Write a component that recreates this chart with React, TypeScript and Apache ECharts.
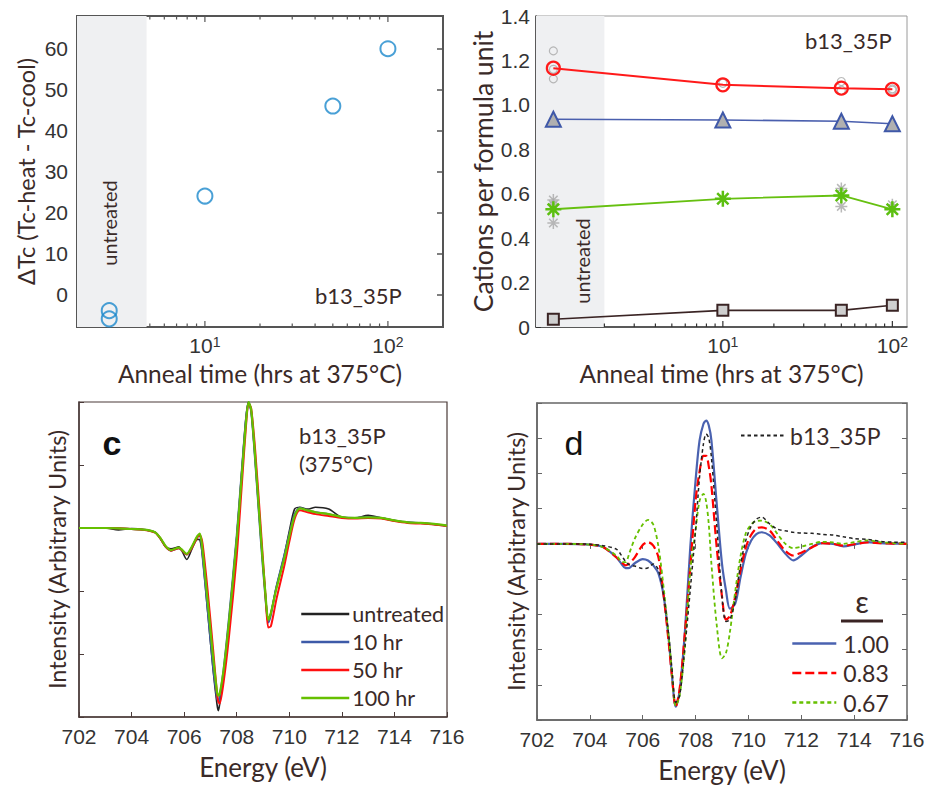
import React, { useEffect, useRef } from 'react';
import * as echarts from 'echarts';

// ---------- Panel a ----------
const aAnnealHours = [3, 3, 10, 50, 100];
const aDeltaTc = [-4, -6, 24, 46, 60];
const aYTicks = [0, 10, 20, 30, 40, 50, 60];
const aLogTicks = [5, 6, 7, 8, 9, 10, 20, 30, 40, 50, 60, 70, 80, 90, 100];
const aMajorTicks = [10, 100];

// ---------- Panel b ----------
const bAnnealHours = [1, 10, 50, 100];
const bCirclesMean = [1.165, 1.09, 1.075, 1.07];
const bTrianglesMean = [0.935, 0.932, 0.926, 0.915];
const bStarsMean = [0.53, 0.577, 0.592, 0.53];
const bSquaresMean = [0.035, 0.075, 0.075, 0.098];
const bCirclesRawHours = [1, 1, 1, 10, 50, 50, 100, 100];
const bCirclesRaw = [1.243, 1.16, 1.117, 1.097, 1.105, 1.066, 1.072, 1.066];
const bStarsRawHours = [1, 1, 1, 50, 50, 100];
const bStarsRaw = [0.572, 0.55, 0.468, 0.624, 0.543, 0.55];
const bLogTicks = [2, 3, 4, 5, 6, 7, 8, 9, 10, 20, 30, 40, 50, 60, 70, 80, 90, 100];
const bMajorTicks = [10, 100];
const decadeLabels = [10, 100];

// ---------- Panel c ----------
const cEnergy = [702, 703, 703.5, 704, 704.5, 704.9, 705.1, 705.3, 705.5, 705.8, 706.1, 706.3, 706.5, 706.6, 706.7, 706.9, 707.1, 707.25, 707.3, 707.35, 707.5, 707.7, 708.0, 708.2, 708.35, 708.45, 708.55, 708.7, 708.9, 709.1, 709.2, 709.3, 709.5, 709.8, 710.0, 710.2, 710.4, 710.7, 711.0, 711.5, 712.0, 712.5, 713.0, 713.5, 714.0, 714.5, 715.0, 715.5, 716.0];
const cUntreated = [0, 0, -0.03, -0.01, -0.027, -0.07, -0.17, -0.3, -0.33, -0.3, -0.5, -0.33, -0.18, -0.19, -0.45, -1.35, -2.25, -2.8, -2.9, -2.8, -2.3, -1.5, -0.15, 0.95, 1.75, 2.0, 1.85, 1.1, -0.05, -1.1, -1.45, -1.35, -0.95, -0.45, -0.05, 0.3, 0.33, 0.3, 0.33, 0.3, 0.17, 0.16, 0.2, 0.16, 0.12, 0.09, 0.08, 0.06, 0.035];
const c10hr = [0, 0, -0.005, -0.016, -0.027, -0.07, -0.17, -0.3, -0.36, -0.32, -0.42, -0.3, -0.14, -0.12, -0.45, -1.32, -2.2, -2.7, -2.75, -2.68, -2.25, -1.45, -0.12, 0.95, 1.72, 2.0, 1.85, 1.08, -0.1, -1.15, -1.5, -1.38, -0.95, -0.45, -0.1, 0.22, 0.32, 0.28, 0.25, 0.22, 0.17, 0.16, 0.17, 0.16, 0.12, 0.09, 0.08, 0.06, 0.035];
const c50hr = [0, 0, -0.005, -0.016, -0.03, -0.075, -0.17, -0.3, -0.36, -0.32, -0.42, -0.31, -0.15, -0.12, -0.25, -1.02, -1.92, -2.62, -2.76, -2.79, -2.45, -1.75, -0.45, 0.72, 1.6, 1.98, 1.9, 1.25, 0.1, -1.1, -1.58, -1.56, -1.15, -0.62, -0.22, 0.14, 0.28, 0.25, 0.22, 0.19, 0.16, 0.15, 0.16, 0.15, 0.11, 0.08, 0.07, 0.055, 0.03];
const c100hr = [0, 0, -0.005, -0.016, -0.027, -0.07, -0.16, -0.29, -0.35, -0.31, -0.41, -0.29, -0.13, -0.09, -0.35, -1.19, -2.04, -2.6, -2.66, -2.64, -2.26, -1.51, -0.19, 0.88, 1.67, 2.0, 1.88, 1.14, -0.03, -1.09, -1.46, -1.35, -0.98, -0.5, -0.13, 0.19, 0.31, 0.28, 0.25, 0.22, 0.175, 0.16, 0.17, 0.16, 0.12, 0.09, 0.08, 0.064, 0.037];

// ---------- Panel d ----------
const dEnergy = [702, 703, 704, 704.5, 705.0, 705.2, 705.35, 705.5, 705.7, 706.0, 706.2, 706.4, 706.6, 706.8, 707.0, 707.1, 707.25, 707.4, 707.6, 707.8, 708.0, 708.15, 708.3, 708.4, 708.5, 708.6, 708.8, 709.0, 709.15, 709.3, 709.5, 709.7, 709.9, 710.1, 710.3, 710.5, 710.8, 711.1, 711.4, 711.7, 712.0, 712.4, 712.8, 713.2, 713.6, 714.0, 714.5, 715.0, 715.5, 716.0];
const dEps100 = [0, 0, -0.02, -0.09, -0.38, -0.57, -0.69, -0.68, -0.55, -0.43, -0.47, -0.61, -0.85, -1.51, -2.84, -3.69, -4.62, -4.16, -2.46, -0.09, 1.8, 2.93, 3.41, 3.5, 3.36, 2.93, 1.14, -0.57, -1.32, -1.84, -1.7, -0.95, -0.28, 0.09, 0.28, 0.33, 0.24, 0, -0.28, -0.47, -0.33, -0.09, 0.02, 0, -0.07, -0.02, 0.05, 0.02, 0.01, 0];
const dEps083 = [0, 0, -0.02, -0.09, -0.38, -0.52, -0.61, -0.55, -0.38, -0.03, 0.05, -0.05, -0.4, -1.51, -2.93, -3.7, -4.62, -4.1, -2.5, -0.66, 1.23, 2.05, 2.5, 2.5, 2.2, 1.65, -0.1, -1.5, -2.15, -2.05, -1.5, -0.75, -0.1, 0.25, 0.44, 0.47, 0.38, 0.08, -0.2, -0.33, -0.25, -0.1, 0.02, 0, -0.05, -0.01, 0.04, 0.02, 0.01, 0];
const dEps067 = [0, 0, -0.02, -0.09, -0.33, -0.5, -0.52, -0.25, 0.15, 0.55, 0.68, 0.55, -0.1, -1.3, -2.75, -3.6, -4.6, -4.3, -2.9, -0.75, 0.38, 1.22, 1.42, 1.2, 0.55, -0.57, -2.3, -3.25, -3.1, -2.5, -1.35, -0.35, 0.3, 0.55, 0.65, 0.66, 0.56, 0.28, 0, -0.12, -0.08, 0, 0.06, 0.04, 0, 0.05, 0.1, 0.05, 0.02, 0];
const dMeasured = [0, 0, -0.01, -0.05, -0.15, -0.33, -0.5, -0.6, -0.63, -0.7, -0.68, -0.57, -0.75, -1.5, -2.7, -3.5, -4.5, -4.3, -2.9, -1.3, 0.4, 1.9, 2.85, 3.12, 3.0, 2.45, 0.55, -1.5, -2.2, -2.15, -1.6, -0.6, 0.1, 0.5, 0.7, 0.76, 0.57, 0.42, 0.37, 0.33, 0.31, 0.3, 0.27, 0.25, 0.2, 0.15, 0.13, 0.07, 0.05, 0.05];

const TICK_FONT = 'Liberation Sans, Arial, sans-serif';
const TITLE_FONT = 'Lato, "Open Sans", sans-serif';
const TEXT_BROWN = '#3a2a28';
const ASTERISK = 'path://M10,0L10,20M0,10L20,10M2.93,2.93L17.07,17.07M2.93,17.07L17.07,2.93';

const pairs = (xs: number[], ys: number[]) => xs.map((x, i) => [x, ys[i]]);

const decadeFormatter = (v: number) => '10{s|' + Math.round(Math.log10(v)) + '}';

const supRich = {
  s: { fontSize: 14, fontFamily: TICK_FONT, color: '#333', verticalAlign: 'top', lineHeight: 14 },
};

function logTickSeries(xi: number, yi: number, ticks: number[], majors: number[], yVal: number, top: boolean, color: string) {
  return {
    type: 'custom',
    xAxisIndex: xi,
    yAxisIndex: yi,
    silent: true,
    z: 6,
    clip: false,
    data: ticks.map((t) => [t, yVal]),
    encode: { x: 0, y: 1 },
    renderItem: (params: any, api: any) => {
      const v = api.value(0);
      const p = api.coord([v, yVal]);
      const cs = params.coordSys;
      const len = majors.some((m) => Math.abs(m - v) < 1e-9) ? 6 : 3.5;
      const bottom = cs.y + cs.height;
      const children: any[] = [
        { type: 'line', shape: { x1: p[0], y1: bottom, x2: p[0], y2: bottom - len }, style: { stroke: color, lineWidth: 1.2 } },
      ];
      if (top) {
        children.push({ type: 'line', shape: { x1: p[0], y1: cs.y, x2: p[0], y2: cs.y + len }, style: { stroke: color, lineWidth: 1.2 } });
      }
      return { type: 'group', children };
    },
  };
}

function buildOption(): any {
  const nameStyle = (size: number) => ({ fontFamily: TITLE_FONT, fontSize: size, color: TEXT_BROWN });
  const labelStyle = { fontFamily: TICK_FONT, fontSize: 21, color: '#333' };
  const legendItem = { color: 'transparent', borderColor: 'transparent', borderWidth: 0 };

  return {
    animation: false,
    backgroundColor: '#ffffff',
    grid: [
      { left: 77, top: 16, width: 366, height: 311, show: true, borderColor: '#555', borderWidth: 2, backgroundColor: 'transparent' },
      { left: 536, top: 16, width: 371, height: 311, show: true, borderColor: '#9a9a9a', borderWidth: 1, backgroundColor: 'transparent' },
      { left: 79, top: 402, width: 368, height: 315, show: true, borderColor: '#4a3a38', borderWidth: 1.2, backgroundColor: 'transparent' },
      { left: 537, top: 403, width: 370, height: 317, show: true, borderColor: '#666', borderWidth: 1.5, backgroundColor: 'transparent' },
    ],
    xAxis: [
      {
        type: 'log', gridIndex: 0, min: 2, max: 200,
        axisLine: { show: false }, axisTick: { show: false }, splitLine: { show: false },
        axisLabel: { ...labelStyle, margin: 8, customValues: decadeLabels, formatter: decadeFormatter, rich: supRich },
        name: 'Anneal time (hrs at 375°C)', nameLocation: 'middle', nameGap: 34, nameTextStyle: nameStyle(24.5),
      },
      {
        type: 'log', gridIndex: 1, min: 0.79, max: 122,
        axisLine: { show: true, onZero: false, lineStyle: { color: '#333', width: 1.5 } }, axisTick: { show: false }, splitLine: { show: false },
        axisLabel: { ...labelStyle, margin: 8, customValues: decadeLabels, formatter: decadeFormatter, rich: supRich },
        name: 'Anneal time (hrs at 375°C)', nameLocation: 'middle', nameGap: 34, nameTextStyle: nameStyle(24.5),
      },
      {
        type: 'value', gridIndex: 2, min: 702, max: 716, interval: 2,
        axisLine: { show: true, onZero: false, lineStyle: { color: '#4a3a38', width: 1.5 } },
        axisTick: { show: true, inside: true, length: 5, lineStyle: { color: '#4a3a38' } }, splitLine: { show: false },
        axisLabel: { ...labelStyle, margin: 9 },
        name: 'Energy (eV)', nameLocation: 'middle', nameGap: 37, nameTextStyle: nameStyle(26),
      },
      {
        type: 'value', gridIndex: 3, min: 702, max: 716, interval: 2,
        axisLine: { show: true, onZero: false, lineStyle: { color: '#666', width: 1.5 } },
        axisTick: { show: true, inside: true, length: 5, lineStyle: { color: '#666' } }, splitLine: { show: false },
        axisLabel: { ...labelStyle, margin: 9 },
        name: 'Energy (eV)', nameLocation: 'middle', nameGap: 37, nameTextStyle: nameStyle(26),
      },
      {
        type: 'value', gridIndex: 3, position: 'top', min: 702, max: 716, interval: 2,
        axisLine: { show: false }, axisTick: { show: true, inside: true, length: 5, lineStyle: { color: '#666' } },
        splitLine: { show: false }, axisLabel: { show: false },
      },
    ],
    yAxis: [
      {
        type: 'value', gridIndex: 0, min: -8, max: 68,
        axisLine: { show: false },
        axisTick: { show: true, inside: true, length: 6, customValues: aYTicks, lineStyle: { color: '#555', width: 1.5 } },
        splitLine: { show: false },
        axisLabel: { ...labelStyle, margin: 9, customValues: aYTicks },
        name: 'ΔTc (Tc-heat - Tc-cool)', nameLocation: 'middle', nameGap: 39, nameTextStyle: nameStyle(23.5),
      },
      {
        type: 'value', gridIndex: 0, position: 'right', min: -8, max: 68,
        axisLine: { show: false },
        axisTick: { show: true, inside: true, length: 6, customValues: aYTicks, lineStyle: { color: '#555', width: 1.5 } },
        splitLine: { show: false }, axisLabel: { show: false },
      },
      {
        type: 'value', gridIndex: 1, min: 0, max: 1.4, interval: 0.2,
        axisLine: { show: true, onZero: false, lineStyle: { color: '#333', width: 1.5 } },
        axisTick: { show: true, inside: true, length: 5, lineStyle: { color: '#333' } }, splitLine: { show: false },
        axisLabel: { ...labelStyle, margin: 6, formatter: (v: number) => (v === 0 ? '0' : v.toFixed(1)) },
        name: 'Cations per formula unit', nameLocation: 'middle', nameGap: 40, nameTextStyle: nameStyle(26.5),
      },
      {
        type: 'value', gridIndex: 2, min: -3, max: 2, interval: 1,
        axisLine: { show: true, onZero: false, lineStyle: { color: '#4a3a38', width: 1.5 } },
        axisTick: { show: true, inside: true, length: 5, lineStyle: { color: '#4a3a38' } }, splitLine: { show: false },
        axisLabel: { show: false },
        name: 'Intensity (Arbitrary Units)', nameLocation: 'middle', nameGap: 10, nameTextStyle: nameStyle(23.5),
      },
      {
        type: 'value', gridIndex: 3, min: -5, max: 4, interval: 1,
        axisLine: { show: true, onZero: false, lineStyle: { color: '#666', width: 1.5 } },
        axisTick: { show: true, inside: true, length: 5, lineStyle: { color: '#666' } }, splitLine: { show: false },
        axisLabel: { show: false },
        name: 'Intensity (Arbitrary Units)', nameLocation: 'middle', nameGap: 9, nameTextStyle: nameStyle(23.5),
      },
      {
        type: 'value', gridIndex: 3, position: 'right', min: -5, max: 4, interval: 1,
        axisLine: { show: false }, axisTick: { show: true, inside: true, length: 5, lineStyle: { color: '#666' } },
        splitLine: { show: false }, axisLabel: { show: false },
      },
    ],
    legend: [
      {
        data: ['untreated', '10 hr', '50 hr', '100 hr'], orient: 'vertical', left: 300, top: 603, padding: 0,
        itemWidth: 48, itemHeight: 14, itemGap: 6, selectedMode: false, itemStyle: legendItem,
        lineStyle: { width: 2.5 },
        textStyle: { fontFamily: TITLE_FONT, fontSize: 21.5, lineHeight: 20, color: TEXT_BROWN, padding: [0, 0, 0, -2] },
      },
      {
        data: ['b13_35P'], orient: 'vertical', left: 740, top: 424, padding: 0,
        itemWidth: 44, itemHeight: 14, selectedMode: false, itemStyle: legendItem,
        textStyle: { fontFamily: TITLE_FONT, fontSize: 23, lineHeight: 20, color: TEXT_BROWN },
      },
      {
        data: ['1.00', '0.83', '0.67'], orient: 'vertical', left: 791, top: 632, padding: 0,
        itemWidth: 44, itemHeight: 14, itemGap: 6.5, selectedMode: false, itemStyle: legendItem,
        lineStyle: { width: 2.6 },
        textStyle: { fontFamily: TITLE_FONT, fontSize: 23, lineHeight: 20, color: TEXT_BROWN, padding: [0, 0, 0, 2] },
      },
    ],
    series: [
      // ---- panel a ----
      {
        name: 'ΔTc', type: 'scatter', xAxisIndex: 0, yAxisIndex: 0, z: 3,
        data: pairs(aAnnealHours, aDeltaTc), symbol: 'circle', symbolSize: 15,
        itemStyle: { color: 'transparent', borderColor: '#1b88cc', borderWidth: 2 },
        markArea: { silent: true, itemStyle: { color: '#eff0f2' }, data: [[{ xAxis: 2 }, { xAxis: 4.8 }]] },
      },
      logTickSeries(0, 0, aLogTicks, aMajorTicks, 0, true, '#555'),
      // ---- panel b ----
      {
        name: 'raw circles', type: 'scatter', xAxisIndex: 1, yAxisIndex: 2, z: 2,
        data: pairs(bCirclesRawHours, bCirclesRaw), symbol: 'circle', symbolSize: 8,
        itemStyle: { color: 'transparent', borderColor: '#a8a8a8', borderWidth: 1.2 },
        markArea: { silent: true, itemStyle: { color: '#eff0f2' }, data: [[{ xAxis: 0.79 }, { xAxis: 2 }]] },
      },
      {
        name: 'raw stars', type: 'scatter', xAxisIndex: 1, yAxisIndex: 2, z: 2,
        data: pairs(bStarsRawHours, bStarsRaw), symbol: ASTERISK, symbolSize: 12,
        itemStyle: { color: 'transparent', borderColor: '#a8a8a8', borderWidth: 1.5 },
      },
      {
        name: 'circles', type: 'line', xAxisIndex: 1, yAxisIndex: 2, z: 3,
        data: pairs(bAnnealHours, bCirclesMean), symbol: 'circle', symbolSize: 13, showSymbol: true,
        lineStyle: { color: '#ff1a1a', width: 2 },
        itemStyle: { color: 'transparent', borderColor: '#ff1a1a', borderWidth: 2.2 },
      },
      {
        name: 'triangles', type: 'line', xAxisIndex: 1, yAxisIndex: 2, z: 3,
        data: pairs(bAnnealHours, bTrianglesMean), symbol: 'triangle', symbolSize: 15, showSymbol: true,
        lineStyle: { color: '#4a5fae', width: 1.6 },
        itemStyle: { color: '#b0b0b0', borderColor: '#3f58a8', borderWidth: 2 },
      },
      {
        name: 'stars', type: 'line', xAxisIndex: 1, yAxisIndex: 2, z: 3,
        data: pairs(bAnnealHours, bStarsMean), symbol: ASTERISK, symbolSize: 16, showSymbol: true,
        lineStyle: { color: '#66c010', width: 1.8 },
        itemStyle: { color: 'transparent', borderColor: '#5cbf10', borderWidth: 2.5 },
      },
      {
        name: 'squares', type: 'line', xAxisIndex: 1, yAxisIndex: 2, z: 3,
        data: pairs(bAnnealHours, bSquaresMean), symbol: 'rect', symbolSize: 11, showSymbol: true,
        lineStyle: { color: '#3a2424', width: 1.6 },
        itemStyle: { color: '#cfcfcf', borderColor: '#3a2424', borderWidth: 2 },
      },
      logTickSeries(1, 2, bLogTicks, bMajorTicks, 0, false, '#333'),
      // ---- panel c ----
      {
        name: 'untreated', type: 'line', xAxisIndex: 2, yAxisIndex: 3, showSymbol: false, symbol: 'none', smooth: 0.25,
        data: pairs(cEnergy, cUntreated), lineStyle: { color: '#222222', width: 1.6 }, itemStyle: { color: '#222222' },
      },
      {
        name: '10 hr', type: 'line', xAxisIndex: 2, yAxisIndex: 3, showSymbol: false, symbol: 'none', smooth: 0.25,
        data: pairs(cEnergy, c10hr), lineStyle: { color: '#3d5aa8', width: 2 }, itemStyle: { color: '#3d5aa8' },
      },
      {
        name: '50 hr', type: 'line', xAxisIndex: 2, yAxisIndex: 3, showSymbol: false, symbol: 'none', smooth: 0.25,
        data: pairs(cEnergy, c50hr), lineStyle: { color: '#ff1010', width: 2 }, itemStyle: { color: '#ff1010' },
      },
      {
        name: '100 hr', type: 'line', xAxisIndex: 2, yAxisIndex: 3, showSymbol: false, symbol: 'none', smooth: 0.25,
        data: pairs(cEnergy, c100hr), lineStyle: { color: '#66c000', width: 2.2 }, itemStyle: { color: '#66c000' },
      },
      // ---- panel d ----
      {
        name: '1.00', type: 'line', xAxisIndex: 3, yAxisIndex: 4, showSymbol: false, symbol: 'none', smooth: 0.3,
        data: pairs(dEnergy, dEps100), lineStyle: { color: '#4a62b0', width: 2.2 }, itemStyle: { color: '#4a62b0' },
      },
      {
        name: '0.83', type: 'line', xAxisIndex: 3, yAxisIndex: 4, showSymbol: false, symbol: 'none', smooth: 0.3,
        data: pairs(dEnergy, dEps083), lineStyle: { color: '#ff0000', width: 2.2, type: [9, 4] }, itemStyle: { color: '#ff0000' },
      },
      {
        name: '0.67', type: 'line', xAxisIndex: 3, yAxisIndex: 4, showSymbol: false, symbol: 'none', smooth: 0.3,
        data: pairs(dEnergy, dEps067), lineStyle: { color: '#66c000', width: 1.8, type: [4, 3] }, itemStyle: { color: '#66c000' },
      },
      {
        name: 'b13_35P', type: 'line', xAxisIndex: 3, yAxisIndex: 4, showSymbol: false, symbol: 'none', smooth: 0.3,
        data: pairs(dEnergy, dMeasured), lineStyle: { color: '#222222', width: 1.5, type: [3.5, 3] }, itemStyle: { color: '#222222' },
      },
    ],
    graphic: [
      { type: 'text', x: 110, y: 50, style: { text: 'a', font: '36px ' + TICK_FONT, fill: '#111', align: 'center', verticalAlign: 'middle' } },
      { type: 'text', x: 576, y: 48, style: { text: 'b', font: '36px ' + TICK_FONT, fill: '#111', align: 'center', verticalAlign: 'middle' } },
      { type: 'text', x: 112, y: 443, style: { text: 'c', font: 'bold 34px ' + TICK_FONT, fill: '#111', align: 'center', verticalAlign: 'middle' } },
      { type: 'text', x: 574, y: 443, style: { text: 'd', font: '34px ' + TICK_FONT, fill: '#111', align: 'center', verticalAlign: 'middle' } },
      { type: 'text', x: 315, y: 295, style: { text: 'b13_35P', font: '22px ' + TITLE_FONT, fill: TEXT_BROWN, align: 'left', verticalAlign: 'middle' } },
      { type: 'text', x: 805, y: 40, style: { text: 'b13_35P', font: '22px ' + TITLE_FONT, fill: TEXT_BROWN, align: 'left', verticalAlign: 'middle' } },
      { type: 'text', x: 299, y: 435, style: { text: 'b13_35P', font: '22px ' + TITLE_FONT, fill: TEXT_BROWN, align: 'left', verticalAlign: 'middle' } },
      { type: 'text', x: 299, y: 463, style: { text: '(375°C)', font: '22px ' + TITLE_FONT, fill: TEXT_BROWN, align: 'left', verticalAlign: 'middle' } },
      { type: 'text', x: 109, y: 223, rotation: Math.PI / 2, z: 10, style: { text: 'untreated', font: '20px ' + TITLE_FONT, fill: TEXT_BROWN, align: 'center', verticalAlign: 'middle' } },
      { type: 'text', x: 582, y: 261, rotation: Math.PI / 2, z: 10, style: { text: 'untreated', font: '20px ' + TITLE_FONT, fill: TEXT_BROWN, align: 'center', verticalAlign: 'middle' } },
      { type: 'text', x: 862, y: 601, style: { text: 'ε', font: '30px ' + TITLE_FONT, fill: TEXT_BROWN, align: 'center', verticalAlign: 'middle' } },
      { type: 'line', shape: { x1: 841, y1: 621, x2: 883, y2: 621 }, style: { stroke: '#3a2424', lineWidth: 3 } },
    ],
  };
}

export default function App() {
  const ref = useRef<HTMLDivElement>(null);
  useEffect(() => {
    if (!ref.current) return;
    const chart = echarts.init(ref.current, undefined, { renderer: 'svg' });
    chart.setOption(buildOption());
    return () => chart.dispose();
  }, []);
  return <div ref={ref} style={{ position: 'absolute', left: 0, top: 0, width: 934, height: 786 }} />;
}
